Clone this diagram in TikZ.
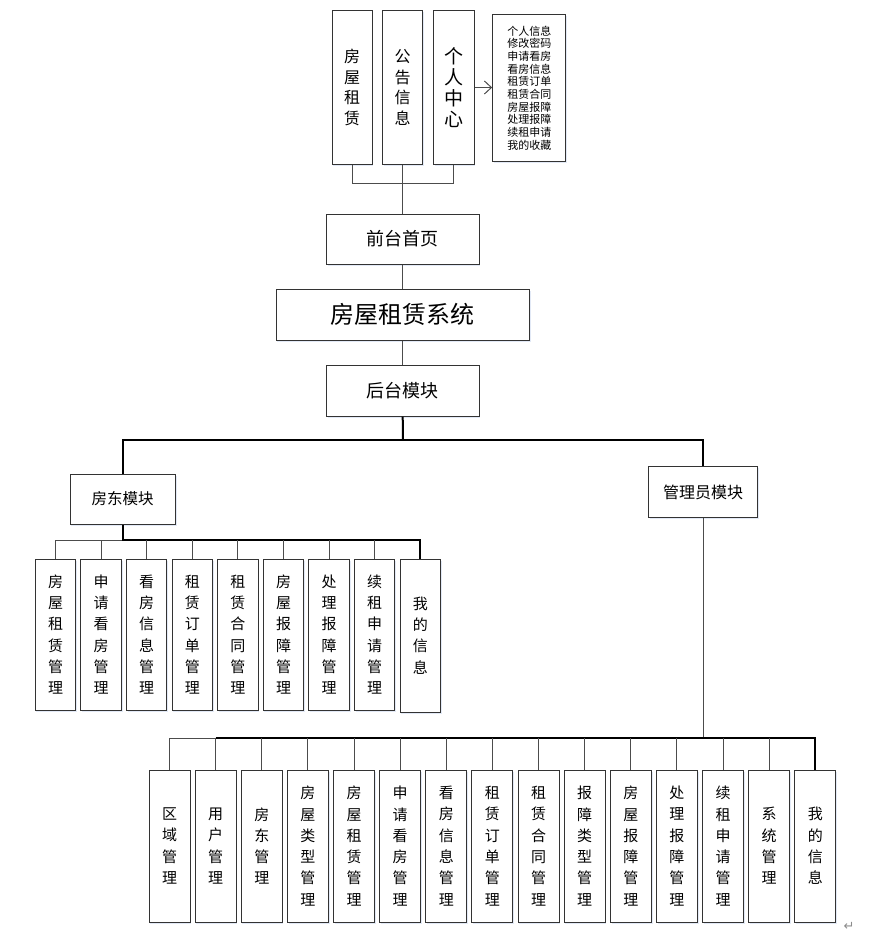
\documentclass[tikz,border=0pt]{standalone}
\usepackage{fontspec}
\newfontfamily\cjk{Noto Sans CJK SC}
\newfontfamily\djv{DejaVu Sans}
\usetikzlibrary{arrows.meta,shadows}
\definecolor{glow}{RGB}{226,233,246}
\begin{document}
\begin{tikzpicture}[x=1pt,y=-1pt,
  bx/.style={draw=black!80, line width=1pt, inner sep=0pt, fill=white, align=center,
    drop shadow={shadow xshift=1.2pt, shadow yshift=-1.5pt, fill=glow, opacity=1}},
  conn/.style={draw=black!70, line width=1pt},
  bus/.style={draw=black, line width=2pt},
  vt/.style={font=\cjk\fontsize{15}{21.3}\selectfont},
  lbox/.style={bx, vt, minimum width=40.5pt, minimum height=151pt},
  abox/.style={bx, vt, minimum width=41pt, minimum height=152pt}]
\useasboundingbox (0,0) rectangle (890,934);

% top row
\node[bx, minimum width=40pt, minimum height=153pt, font=\cjk\fontsize{16}{20.6}\selectfont] (t1) at (352,87.5) {房\\屋\\租\\赁};
\node[bx, minimum width=39.5pt, minimum height=153pt, font=\cjk\fontsize{16}{20.6}\selectfont] (t2) at (402.7,87.5) {公\\告\\信\\息};
\node[bx, minimum width=40.7pt, minimum height=153pt, font=\cjk\fontsize{19}{21}\selectfont] (t3) at (453.7,87.5) {个\\人\\中\\心};
\node[bx, minimum width=73.3pt, minimum height=146pt, font=\cjk\fontsize{11}{12.7}\selectfont] (info) at (529.3,88)
  {个人信息\\修改密码\\申请看房\\看房信息\\租赁订单\\租赁合同\\房屋报障\\处理报障\\续租申请\\我的收藏};

% centre column
\node[bx, minimum width=152.6pt, minimum height=50pt, font=\cjk\fontsize{18}{18}\selectfont] (front) at (402.7,239) {前台首页};
\node[bx, minimum width=253.3pt, minimum height=50.7pt, font=\cjk\fontsize{24}{24}\selectfont] (sys) at (402.7,314.7) {房屋租赁系统};
\node[bx, minimum width=152.6pt, minimum height=50.7pt, font=\cjk\fontsize{18}{18}\selectfont] (back) at (402.7,390.7) {后台模块};

% modules
\node[bx, minimum width=105.3pt, minimum height=50pt, font=\cjk\fontsize{15.5}{15.5}\selectfont] (ld) at (122.7,499) {房东模块};
\node[bx, minimum width=108.6pt, minimum height=50.6pt, font=\cjk\fontsize{16}{16}\selectfont] (ad) at (703,492) {管理员模块};

% landlord children
\foreach \t [count=\i] in {{房\\屋\\租\\赁\\管\\理},{申\\请\\看\\房\\管\\理},{看\\房\\信\\息\\管\\理},{租\\赁\\订\\单\\管\\理},{租\\赁\\合\\同\\管\\理},{房\\屋\\报\\障\\管\\理},{处\\理\\报\\障\\管\\理},{续\\租\\申\\请\\管\\理}}
  \node[lbox] (l\i) at ({55.5+45.6*(\i-1)},634.5) {\t};
\node[lbox, minimum height=153pt] (l9) at (420.3,635.5) {我\\的\\信\\息};

% admin children
\foreach \t [count=\i] in {{区\\域\\管\\理},{用\\户\\管\\理},{房\\东\\管\\理},{房\\屋\\类\\型\\管\\理},{房\\屋\\租\\赁\\管\\理},{申\\请\\看\\房\\管\\理},{看\\房\\信\\息\\管\\理},{租\\赁\\订\\单\\管\\理},{租\\赁\\合\\同\\管\\理},{报\\障\\类\\型\\管\\理},{房\\屋\\报\\障\\管\\理},{处\\理\\报\\障\\管\\理},{续\\租\\申\\请\\管\\理},{系\\统\\管\\理},{我\\的\\信\\息}}
  \node[abox] (a\i) at ({169.5+46.13*(\i-1)},846) {\t};

% bus coordinates
\coordinate (topbus) at (403,183);
\coordinate (mainbus) at (403,440);
\coordinate (lbus) at (122.7,540);
\coordinate (abus) at (703,738);

% top connectors
\draw[conn] (t1.south) -- (t1.south |- topbus) -- (t3.south |- topbus) -- (t3.south);
\draw[conn] (t2.south) -- (front.north);
\draw[conn, -{Straight Barb[length=7pt,width=13pt]}] (t3.east) -- (t3.east -| info.west);
\draw[conn] (front.south) -- (sys.north);
\draw[conn] (sys.south) -- (back.north);

% main bus
\draw[bus] (back.south) -- (mainbus);
\draw[bus] (ld.north) -- (ld.north |- mainbus) -- (ad.north |- mainbus) -- (ad.north);

% landlord bus
\draw[conn] (l1.north) -- (l1.north |- lbus) -- (lbus);
\draw[bus] (ld.south) -- (lbus) -- (l9.north |- lbus) -- (l9.north);
\foreach \i in {2,...,8} \draw[conn] (l\i.north) -- (l\i.north |- lbus);

% admin bus
\draw[conn] (ad.south) -- (abus);
\draw[conn] (a1.north) -- (a1.north |- abus) -- (a2.north |- abus);
\draw[bus] (a2.north |- abus) -- (a15.north |- abus) -- (a15.north);
\foreach \i in {2,...,14} \draw[conn] (a\i.north) -- (a\i.north |- abus);

% paragraph mark
\node[text=black!45, font=\djv\fontsize{13}{13}\selectfont, inner sep=0pt] (ret) at (849,926) {↵};
\end{tikzpicture}
\end{document}
